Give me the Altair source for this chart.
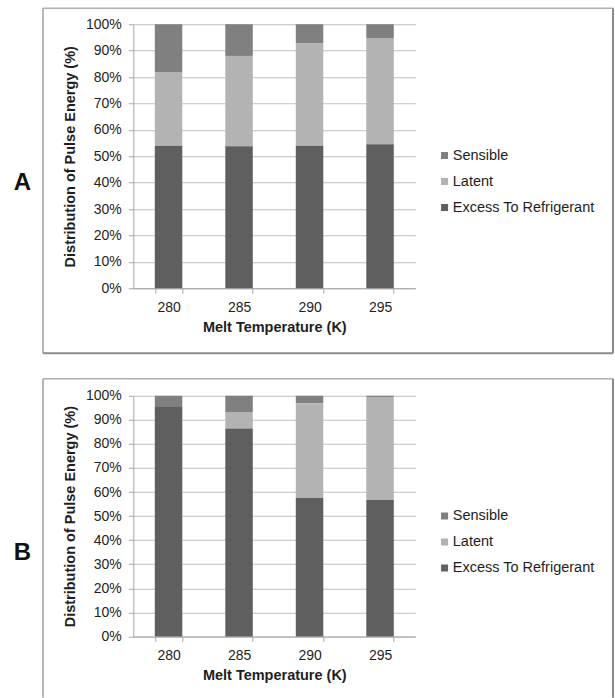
import altair as alt
import pandas as pd

temps = ["280", "285", "290", "295"]
series_names = ["Sensible", "Latent", "Excess To Refrigerant"]
series_colors = ["#808080", "#b3b3b3", "#5f5f5f"]
stack_rank = [2, 1, 0]  # Sensible on top, Excess at the bottom

# Panel A (% of pulse energy)
a_excess = [54.0, 53.8, 54.0, 54.5]
a_latent = [27.9, 34.2, 38.7, 40.3]
a_sensible = [18.1, 12.0, 7.3, 5.2]

# Panel B (% of pulse energy)
b_excess = [95.3, 86.4, 57.5, 56.7]
b_latent = [0.0, 6.6, 39.3, 42.8]
b_sensible = [4.7, 7.0, 3.2, 0.5]

y_tick_values = [0, 10, 20, 30, 40, 50, 60, 70, 80, 90, 100]

FONT = "Liberation Sans"
TXT = "#1e1e1e"


def make_df(excess, latent, sensible):
    rows = []
    by_name = {"Sensible": sensible, "Latent": latent, "Excess To Refrigerant": excess}
    for i, t in enumerate(temps):
        for name, rank in zip(series_names, stack_rank):
            rows.append({"temp": t, "series": name, "value": by_name[name][i], "rank": rank})
    return pd.DataFrame(rows)


one = pd.DataFrame({"k": [0]})


def rule(x, x2, y, y2, color, sw):
    return alt.Chart(one).mark_rule(color=color, strokeWidth=sw).encode(
        x=alt.value(x), x2=alt.value(x2), y=alt.value(y), y2=alt.value(y2)
    )


def panel(df, plot_h, letter, letter_y, legend_y, frame_top, frame_bottom, close_bottom):
    bars = alt.Chart(df).mark_bar().encode(
        x=alt.X(
            "temp:N",
            sort=temps,
            scale=alt.Scale(domain=temps, paddingInner=0.61, paddingOuter=0.305),
            axis=alt.Axis(
                title="Melt Temperature (K)",
                labelAngle=0,
                tickBand="extent",
                grid=False,
                labelPadding=7,
                titlePadding=6,
            ),
        ),
        y=alt.Y(
            "value:Q",
            stack="zero",
            scale=alt.Scale(domain=[0, 100], nice=False),
            axis=alt.Axis(
                title="Distribution of Pulse Energy (%)",
                values=y_tick_values,
                labelExpr="datum.value + '%'",
                grid=True,
                labelPadding=7,
                titlePadding=8,
            ),
        ),
        color=alt.Color(
            "series:N",
            scale=alt.Scale(domain=series_names, range=series_colors),
            legend=alt.Legend(
                title=None,
                orient="none",
                legendX=304,
                legendY=legend_y,
            ),
        ),
        order=alt.Order("rank:Q", sort="ascending"),
    )
    L, R = -90.3, 479.7
    parts = [
        bars,
        rule(L, R, frame_top, frame_top, "#b0b0b0", 1.5),
        rule(L, L, frame_top, frame_bottom, "#a0a0a0", 1.5),
        rule(R, R, frame_top, frame_bottom, "#8a8a8a", 2),
    ]
    if close_bottom:
        parts.append(rule(L, R, frame_bottom, frame_bottom, "#8a8a8a", 2))
    parts.append(
        alt.Chart(one)
        .mark_text(text=letter, font=FONT, fontSize=24, fontWeight="bold", color="#111",
                   align="center", baseline="middle")
        .encode(x=alt.value(-111), y=alt.value(letter_y))
    )
    return alt.layer(*parts).properties(width=282, height=plot_h)


panel_a = panel(make_df(a_excess, a_latent, a_sensible), 264, "A", 159, 124, -16, 329, True)
panel_b = panel(make_df(b_excess, b_latent, b_sensible), 240.7, "B", 157, 113, -17, 302, False)

chart = (
    alt.vconcat(panel_a, panel_b, spacing=23.5)
    .resolve_scale(color="independent", x="independent", y="independent")
    .properties(padding={"left": 13.3, "top": 7.25, "right": 0, "bottom": 0})
    .configure_view(strokeWidth=0)
    .configure_axis(
        labelFont=FONT,
        labelFontSize=14,
        labelColor=TXT,
        titleFont=FONT,
        titleFontSize=14.5,
        titleFontWeight="bold",
        titleColor=TXT,
        domainColor="#a6a6a6",
        tickColor="#a6a6a6",
        gridColor="#bfbfbf",
        tickSize=5,
    )
    .configure_legend(
        labelFont=FONT,
        labelFontSize=14.5,
        labelColor=TXT,
        symbolType="square",
        symbolSize=49,
        symbolStrokeWidth=0,
        labelOffset=1,
        rowPadding=11,
        padding=0,
    )
)

chart.save("out.html", embed_options={"renderer": "svg", "actions": False})
